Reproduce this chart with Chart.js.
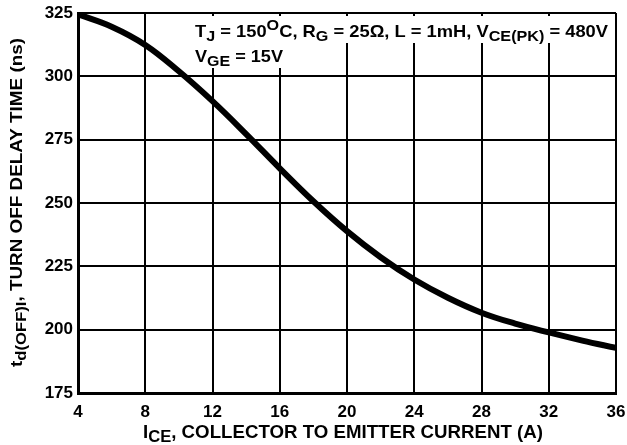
<!DOCTYPE html>
<html>
<head>
<meta charset="utf-8">
<script src="https://cdn.jsdelivr.net/npm/chart.js@4/dist/chart.umd.min.js"></script>
<style>
  html, body { margin: 0; padding: 0; background: #fff; }
  #wrap { width: 627px; height: 445px; }
</style>
</head>
<body>
<div id="wrap"><canvas id="chart" width="627" height="445"></canvas></div>
<script>
// collector current (A) and turn-off delay time (ns)
const currentA = [4, 6, 8, 10, 12, 14, 16, 18, 20, 22, 24, 26, 28, 30, 32, 34, 36];
const delayNs = [324.5, 319.6, 312.4, 302, 290.2, 277.2, 263.7, 250.7, 238.9, 228.6, 219.8, 212.6, 206.7, 202.4, 198.9, 195.7, 192.8];
const xTicks = [4, 8, 12, 16, 20, 24, 28, 32, 36];
const yTicks = [175, 200, 225, 250, 275, 300, 325];

const FONT = '"Liberation Sans", Arial, sans-serif';

// segments: [text, mode] where mode is '' | 'sub' | 'sup'
function segFont(size, m) {
  return `bold ${m ? Math.round(size * 0.88) : size}px ${FONT}`;
}

function richWidth(ctx, segs, size) {
  let w = 0;
  segs.forEach(([t, m]) => {
    ctx.font = segFont(size, m);
    w += ctx.measureText(t).width;
  });
  return w;
}

// draws the segments stretched to the given width
function drawRich(ctx, segs, x, y, size, width) {
  const natural = richWidth(ctx, segs, size);
  const k = width ? width / natural : 1;
  ctx.save();
  ctx.translate(x, y);
  ctx.scale(k, 1);
  let cx = 0;
  segs.forEach(([t, m]) => {
    ctx.font = segFont(size, m);
    const dy = m === 'sub' ? size * 0.24 : m === 'sup' ? -size * 0.4 : 0;
    ctx.fillText(t, cx, dy);
    cx += ctx.measureText(t).width;
  });
  ctx.restore();
  return natural * k;
}

const line1 = [['T', ''], ['J', 'sub'], [' = 150', ''], ['O', 'sup'], ['C, R', ''], ['G', 'sub'],
  [' = 25\u03A9, L = 1mH, V', ''], ['CE(PK)', 'sub'], [' = 480V', '']];
const line2 = [['V', ''], ['GE', 'sub'], [' = 15V', '']];
const xTitle = [['I', ''], ['CE', 'sub'], [', COLLECTOR TO EMITTER CURRENT (A)', '']];
const yTitle = [['t', ''], ['d(OFF)I', 'sub'], [', TURN OFF DELAY TIME (ns)', '']];

const labels = {
  id: 'labels',
  beforeDatasetsDraw(chart) {
    const ctx = chart.ctx;
    ctx.save();
    ctx.textBaseline = 'alphabetic';
    // white boxes behind the condition text
    ctx.fillStyle = '#fff';
    ctx.fillRect(190, 16, 422, 27);
    ctx.fillRect(190, 16, 98, 52);
    ctx.fillStyle = '#000';
    drawRich(ctx, line1, 195, 37, 17, 413);
    drawRich(ctx, line2, 195, 62, 17, 88);
    ctx.restore();
  },
  afterDraw(chart) {
    const ctx = chart.ctx;
    const area = chart.chartArea;
    ctx.save();
    ctx.fillStyle = '#000';
    ctx.textBaseline = 'alphabetic';
    drawRich(ctx, xTitle, 143, 438, 18, 400);
    ctx.translate(22, (area.top + area.bottom) / 2);
    ctx.rotate(-Math.PI / 2);
    drawRich(ctx, yTitle, -164, 0, 17, 329);
    ctx.restore();
  },
};

new Chart(document.getElementById('chart'), {
  type: 'line',
  data: {
    datasets: [{
      data: currentA.map((x, i) => ({ x, y: delayNs[i] })),
      borderColor: '#000',
      borderWidth: 6,
      pointRadius: 0,
      tension: 0.4,
      fill: false,
    }],
  },
  options: {
    responsive: false,
    animation: false,
    layout: { padding: { left: 0, top: 13, right: 11, bottom: 0 } },
    plugins: { legend: { display: false }, tooltip: { enabled: false } },
    scales: {
      x: {
        type: 'linear',
        min: 4,
        max: 36,
        afterBuildTicks: (s) => { s.ticks = xTicks.map((v) => ({ value: v })); },
        afterFit: (s) => { s.height = 52; s.paddingRight = 0; s.paddingLeft = 0; },
        grid: { color: '#000', lineWidth: 2, drawTicks: false },
        border: { color: '#000', width: 3 },
        ticks: { color: '#000', padding: 9, maxRotation: 0, font: { family: FONT, size: 17, weight: 'bold' } },
      },
      y: {
        min: 175,
        max: 325,
        afterBuildTicks: (s) => { s.ticks = yTicks.map((v) => ({ value: v })); },
        afterFit: (s) => { s.width = 78; s.paddingTop = 0; s.paddingBottom = 0; },
        grid: { color: '#000', lineWidth: 2, drawTicks: false },
        border: { color: '#000', width: 3 },
        ticks: { color: '#000', padding: 5, font: { family: FONT, size: 17, weight: 'bold' } },
      },
    },
  },
  plugins: [labels],
});
</script>
</body>
</html>
